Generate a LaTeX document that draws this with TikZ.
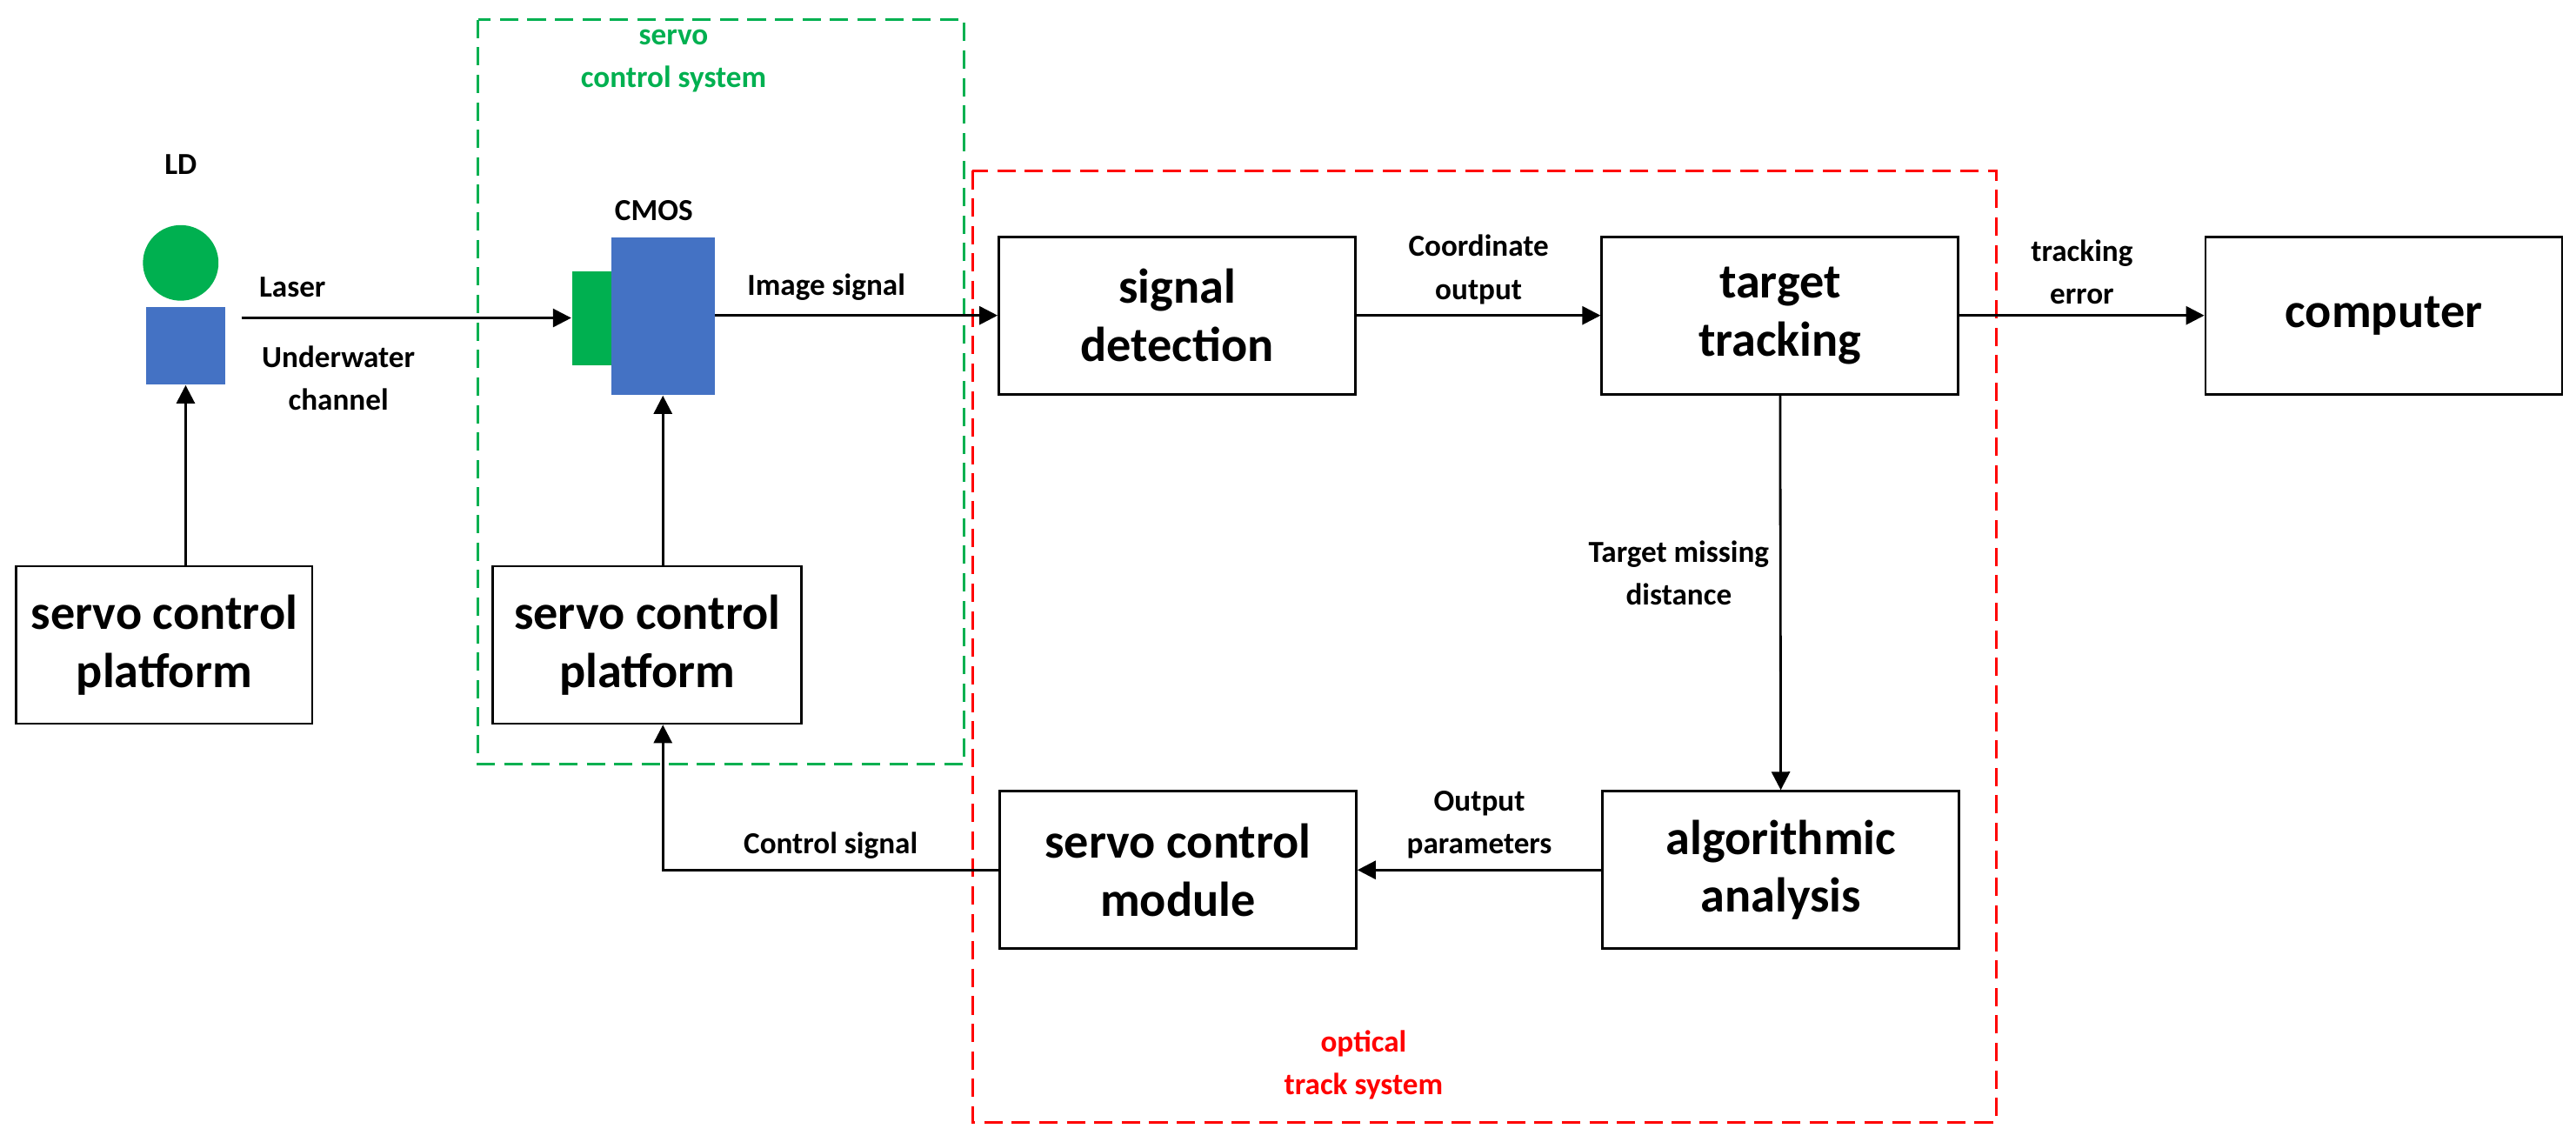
\documentclass[tikz,border=0pt]{standalone}
\usepackage{fontspec}
\setmainfont{Carlito}
\usetikzlibrary{arrows.meta}
\definecolor{ldgreen}{RGB}{0,176,80}
\definecolor{ldblue}{RGB}{68,114,196}
\tikzset{
  block/.style={draw, thick, minimum width=4.1cm, minimum height=1.81cm, align=center, font=\fontsize{16}{19}\selectfont\bfseries},
  sig/.style={font=\fontsize{10}{14}\selectfont\bfseries, align=center},
  link/.style={thick, -{Triangle[length=6pt, width=6pt]}},
  frame/.style={thick, dash pattern=on 6pt off 3pt}
}
\begin{document}
\begin{tikzpicture}[x=0.01889cm, y=-0.01889cm]
    \useasboundingbox (0,0) rectangle (1568,695);

    % Dashed frames
    \draw[frame, ldgreen] (291,12) rectangle (587,465);
    \node[sig, text=ldgreen] (servotitle) at (410,37) {servo\\control system};
    \draw[frame, red] (592,104) rectangle (1215,683);
    \node[sig, text=red] (optictitle) at (830,648) {optical\\track system};

    % Laser diode
    \fill[ldgreen] (110,160) circle (23);
    \node[sig] (ldlabel) at (110,100) {LD};
    \node[fill=ldblue, minimum width=0.91cm, minimum height=0.89cm, inner sep=0] (ld) at (113,210.5) {};

    % CMOS sensor
    \node[fill=ldgreen, minimum width=0.45cm, minimum height=1.08cm, inner sep=0] (lens) at (360,193.5) {};
    \node[fill=ldblue, minimum width=1.19cm, minimum height=1.81cm, inner sep=0] (cmos) at (403.5,192.5) {};
    \node[sig] (cmoslabel) at (398,128) {CMOS};

    % Blocks
    \node[block, minimum width=3.4cm] (platl) at (100,392.5) {servo control\\platform};
    \node[block, minimum width=3.55cm] (platm) at (394,392.5) {servo control\\platform};
    \node[block] (detect) at (716.5,192) {signal\\detection};
    \node[block] (track) at (1083.5,192) {target\\tracking};
    \node[block] (comp) at (1451,192) {computer};
    \node[block] (algo) at (1084,529.5) {algorithmic\\analysis};
    \node[block] (module) at (717,529.5) {servo control\\module};

    % Connectors
    \draw[link] (platl.north -| ld) -- (ld.south);
    \draw[link] (platm.north -| cmos) -- (cmos.south);
    \draw[link] (147,193.5) coordinate (lsrc) -- (lens.west);
    \node[sig] at (178,175) {Laser};
    \node[sig] at (206,230) {Underwater\\channel};
    \draw[link] (cmos.east |- detect) -- (detect.west);
    \node[sig] at (503,175) {Image signal};
    \draw[link] (detect) -- node[sig, above] {Coordinate\\output} (track);
    \draw[link] (track) -- node[sig, above] {tracking\\error} (comp);
    \draw[link] (track) -- node[sig, left, pos=0.45] {Target missing\\distance} (algo);
    \draw[link] (algo) -- node[sig, above] {Output\\parameters} (module);
    \draw[link] (module.west) -| node[sig, above, pos=0.25] {Control signal} (platm.south -| cmos);
\end{tikzpicture}
\end{document}
